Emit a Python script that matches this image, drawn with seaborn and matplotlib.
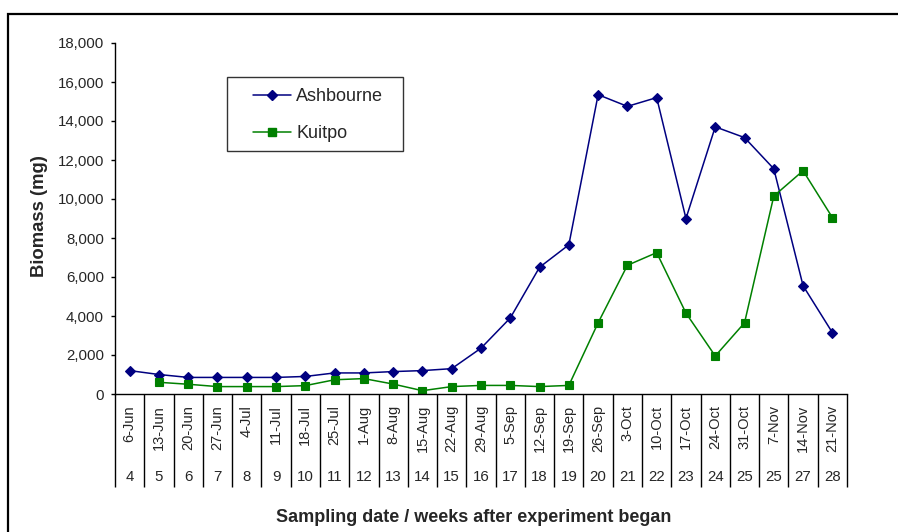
import numpy as np
import pandas as pd
import matplotlib
matplotlib.use("Agg")
import matplotlib.pyplot as plt
import matplotlib.transforms as mtransforms
from matplotlib.patches import Rectangle
from matplotlib.lines import Line2D
from matplotlib.ticker import FuncFormatter
import seaborn as sns

# Sampling dates and weeks after the experiment began
dates = ["6-Jun", "13-Jun", "20-Jun", "27-Jun", "4-Jul", "11-Jul", "18-Jul",
         "25-Jul", "1-Aug", "8-Aug", "15-Aug", "22-Aug", "29-Aug", "5-Sep",
         "12-Sep", "19-Sep", "26-Sep", "3-Oct", "10-Oct", "17-Oct", "24-Oct",
         "31-Oct", "7-Nov", "14-Nov", "21-Nov"]
weeks = ["4", "5", "6", "7", "8", "9", "10", "11", "12", "13", "14", "15",
         "16", "17", "18", "19", "20", "21", "22", "23", "24", "25", "25",
         "27", "28"]

# Biomass (mg) per site
ashbourne = [1200, 1000, 850, 850, 850, 850, 900, 1080, 1080, 1150, 1200,
             1300, 2350, 3900, 6500, 7650, 15350, 14750, 15200, 9000, 13700,
             13150, 11550, 5550, 3150]
kuitpo = [np.nan, 600, 500, 380, 380, 380, 430, 730, 790, 510, 170, 380,
          440, 440, 380, 440, 3650, 6600, 7250, 4150, 1950, 3650, 10150,
          11450, 9050]

sites = ["Ashbourne", "Kuitpo"]
colors = {"Ashbourne": "#000080", "Kuitpo": "#008000"}
markers = {"Ashbourne": "D", "Kuitpo": "s"}

frames = []
for site, vals in zip(sites, [ashbourne, kuitpo]):
    frames.append(pd.DataFrame({"pos": np.arange(len(dates)),
                                "date": dates,
                                "biomass": vals,
                                "site": site}))
df = pd.concat(frames, ignore_index=True).dropna(subset=["biomass"])

sns.set_style("ticks")
plt.rcParams["font.family"] = ["Liberation Sans", "DejaVu Sans"]

W, H = 898, 532
fig = plt.figure(figsize=(W / 100, H / 100), dpi=100)
ax_l, ax_r, ax_t, ax_b = 115, 847, 43, 394
ax = fig.add_axes([ax_l / W, 1 - ax_b / H, (ax_r - ax_l) / W, (ax_b - ax_t) / H])

sns.lineplot(data=df, x="pos", y="biomass", hue="site", style="site",
             hue_order=sites, style_order=sites, palette=colors,
             markers=markers, dashes=False, linewidth=1.1,
             estimator=None, sort=False, legend=False, ax=ax)

msizes = {"Ashbourne": 5.0, "Kuitpo": 5.8}
for line, site in zip(ax.lines, sites):
    line.set_markersize(msizes[site])
    line.set_markeredgecolor(colors[site])
    line.set_markerfacecolor(colors[site])
    line.set_markeredgewidth(0.8)

ax.set_xlim(-0.5, len(dates) - 0.5)
ax.set_ylim(0, 18000)
ax.set_yticks(np.arange(0, 18001, 2000))
ax.yaxis.set_major_formatter(FuncFormatter(lambda v, p: f"{int(v):,}"))
ax.set_xticks(np.arange(len(dates)))
ax.set_xticklabels(dates, rotation=90, fontsize=10.5)
ax.tick_params(axis="x", length=0, pad=8)
ax.tick_params(axis="y", length=3, width=1, pad=5, labelsize=10.8,
               direction="out", color="black")
ax.set_xlabel("")
ax.set_ylabel("")
for s in ["top", "right"]:
    ax.spines[s].set_visible(False)
for s in ["left", "bottom"]:
    ax.spines[s].set_color("black")
    ax.spines[s].set_linewidth(1.0)
ax.grid(False)

# Category separators and week-number row under the axis
trans = mtransforms.blended_transform_factory(ax.transData, ax.transAxes)
sep_bottom = -(487 - ax_b) / (ax_b - ax_t)
ax.vlines(np.arange(len(dates) + 1) - 0.5, sep_bottom, 0, transform=trans,
          colors="black", linewidth=1.0, clip_on=False)
week_y = -(477 - ax_b) / (ax_b - ax_t)
for i, w in enumerate(weeks):
    ax.text(i, week_y, w, transform=trans, ha="center", va="center",
            fontsize=10.8, clip_on=False)

# Axis titles
fig.text(474 / W, 1 - 518 / H, "Sampling date / weeks after experiment began",
         ha="center", va="center", fontsize=13, fontweight="bold")
fig.text(40 / W, 1 - 216 / H, "Biomass (mg)", ha="center", va="center",
         rotation=90, fontsize=13.3, fontweight="bold")

# Legend box with entries
handles = [Line2D([], [], color=colors[s], marker=markers[s], linewidth=1.1,
                  markersize=msizes[s], markeredgecolor=colors[s],
                  markerfacecolor=colors[s]) for s in sites]
leg = fig.legend(handles, sites, loc="upper left",
                 bbox_to_anchor=(253 / W, 1 - 88 / H), frameon=False,
                 borderpad=0, borderaxespad=0, fontsize=13,
                 handlelength=2.1, handletextpad=0.3, labelspacing=1.1)
fig.add_artist(Rectangle((227 / W, 1 - 151 / H), 176 / W, 74 / H,
                         transform=fig.transFigure, fill=False,
                         edgecolor="#333333", linewidth=1.0))

# Outer chart-area border
fig.add_artist(Rectangle((8 / W, -0.1), 1.2, 1.1 - 14 / H,
                         transform=fig.transFigure, fill=False,
                         edgecolor="black", linewidth=1.6))

fig.savefig("out.png", dpi=100)
